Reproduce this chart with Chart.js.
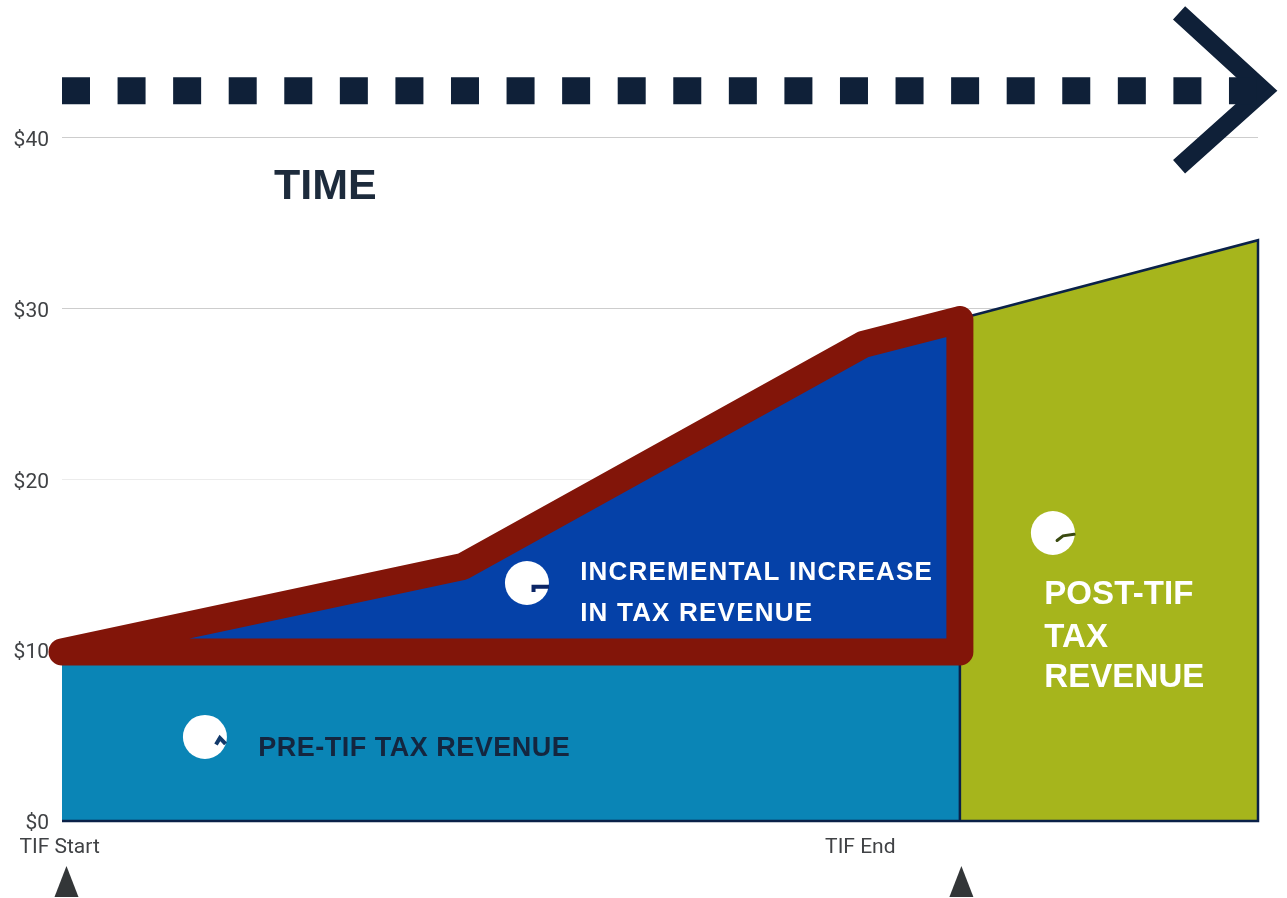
<!DOCTYPE html>
<html>
<head>
    <title>TIF Tax Revenue</title>
    <script src="https://cdn.jsdelivr.net/npm/chart.js"></script>
    <style>
        html, body { margin: 0; padding: 0; background: #fff; }
        canvas { display: block; }
    </style>
</head>
<body>
    <canvas id="tif-chart" width="1287" height="898"></canvas>

    <script>
        // value axis
        const valueTicks = [0, 10, 20, 30, 40];

        // time axis, in years from the start of the district
        const timeTicks = [-0.08, 26.7];
        const timeTickLabels = ['TIF Start', 'TIF End'];
        const timeMarkers = [0.15, 30.08];

        // revenue areas
        const preTifYears = [0, 30.03];
        const preTifValues = [9.9, 9.9];
        const incrementYears = [0, 13.4, 26.8, 30.03];
        const incrementValues = [9.9, 14.9, 27.9, 29.35];
        const postTifYears = [30.03, 40];
        const postTifValues = [29.4, 34];

        // heavy border around the increment
        const borderYears = [0, 13.4, 26.8, 30.03, 30.03, 0];
        const borderValues = [9.9, 14.9, 27.9, 29.35, 9.9, 9.9];

        // thin outline along the base and the post-TIF area
        const outlineYears = [0, 40, 40, 30.03, 30.03];
        const outlineValues = [0, 0, 34, 29.4, 0];

        // time arrow across the top
        const arrowYears = [0, 39.97];
        const arrowValues = [42.75, 42.75];
        const chevronYears = [37.36, 40.2, 37.36];
        const chevronValues = [47.3, 42.75, 38.3];

        // white dots beside the labels, and the small nick inside each one
        const dotYears = [4.78, 15.55, 33.14];
        const dotValues = [4.92, 13.93, 16.86];
        const nickAYears = [5.15, 5.28, 5.47];
        const nickAValues = [4.48, 4.86, 4.51];
        const nickBYears = [15.77, 15.77, 16.29];
        const nickBValues = [13.4, 13.71, 13.71];
        const nickCYears = [33.28, 33.48, 33.85];
        const nickCValues = [16.42, 16.69, 16.78];

        const points = (xs, ys) => xs.map((x, i) => ({ x: x, y: ys[i] }));

        const areaSet = (xs, ys, color) => ({
            data: points(xs, ys),
            showLine: true,
            fill: 'origin',
            backgroundColor: color,
            borderWidth: 0,
            pointRadius: 0,
            clip: false
        });

        const lineSet = (xs, ys, color, width, extra) => Object.assign({
            data: points(xs, ys),
            showLine: true,
            fill: false,
            borderColor: color,
            borderWidth: width,
            pointRadius: 0,
            clip: false
        }, extra);

        // text placed on the chart: [text, year, value, font, color, letter spacing]
        const chartNotes = [
            ['TIME', 7.09, 37.08, 'bold 43px "Liberation Sans"', '#1d2b3c', '0px'],
            ['PRE-TIF TAX REVENUE', 6.56, 4.27, 'bold 27px "Liberation Sans"', '#14263f', '0.5px'],
            ['INCREMENTAL INCREASE', 17.33, 14.55, 'bold 26px "Liberation Sans"', '#ffffff', '1.2px'],
            ['IN TAX REVENUE', 17.33, 12.15, 'bold 26px "Liberation Sans"', '#ffffff', '1.2px'],
            ['POST-TIF', 32.85, 13.24, 'bold 33px "Liberation Sans"', '#ffffff', '0.1px'],
            ['TAX', 32.85, 10.72, 'bold 33px "Liberation Sans"', '#ffffff', '0.1px'],
            ['REVENUE', 32.85, 8.38, 'bold 33px "Liberation Sans"', '#ffffff', '0.1px']
        ];

        // draws the notes and the start/end pointers under the axis
        const notesPlugin = {
            id: 'notes',
            afterDraw(chart) {
                const ctx = chart.ctx;
                const x = chart.scales.x;
                const y = chart.scales.y;

                ctx.save();
                ctx.textAlign = 'left';
                ctx.textBaseline = 'middle';
                chartNotes.forEach(note => {
                    ctx.font = note[3];
                    ctx.fillStyle = note[4];
                    ctx.letterSpacing = note[5];
                    ctx.fillText(note[0], x.getPixelForValue(note[1]), y.getPixelForValue(note[2]));
                });

                ctx.fillStyle = '#333638';
                timeMarkers.forEach(year => {
                    const px = x.getPixelForValue(year);
                    ctx.beginPath();
                    ctx.moveTo(px, 866);
                    ctx.lineTo(px + 12, 897);
                    ctx.lineTo(px - 12, 897);
                    ctx.closePath();
                    ctx.fill();
                });
                ctx.restore();
            }
        };

        const ctx = document.getElementById('tif-chart').getContext('2d');
        new Chart(ctx, {
            type: 'scatter',
            data: {
                datasets: [
                    lineSet(nickAYears, nickAValues, '#123a6b', 4),
                    lineSet(nickBYears, nickBValues, '#0b2566', 4),
                    lineSet(nickCYears, nickCValues, '#3a4a10', 3, { borderCapStyle: 'round' }),
                    {
                        data: points(dotYears, dotValues),
                        backgroundColor: '#ffffff',
                        borderWidth: 0,
                        pointRadius: 22,
                        clip: false
                    },
                    lineSet(borderYears, borderValues, '#821509', 27, {
                        borderJoinStyle: 'round',
                        borderCapStyle: 'round'
                    }),
                    lineSet(outlineYears, outlineValues, '#0a2148', 2.5),
                    areaSet(preTifYears, preTifValues, '#0a85b6'),
                    areaSet(incrementYears, incrementValues, '#0541a8'),
                    areaSet(postTifYears, postTifValues, '#a6b51c'),
                    lineSet(arrowYears, arrowValues, '#0f2038', 27, { borderDash: [28, 27.57] }),
                    lineSet(chevronYears, chevronValues, '#0f2038', 18, { borderJoinStyle: 'miter' })
                ]
            },
            options: {
                responsive: false,
                animation: false,
                layout: { autoPadding: false, padding: { top: 1, right: 29, left: 0, bottom: 0 } },
                plugins: {
                    legend: { display: false },
                    tooltip: { enabled: false }
                },
                scales: {
                    x: {
                        type: 'linear',
                        min: 0,
                        max: 40,
                        afterBuildTicks: axis => { axis.ticks = timeTicks.map(v => ({ value: v })); },
                        afterFit: axis => { axis.height = 77; axis.paddingLeft = 0; axis.paddingRight = 0; },
                        grid: { display: false },
                        border: { display: false },
                        ticks: {
                            autoSkip: false,
                            maxRotation: 0,
                            padding: 6,
                            color: '#404245',
                            font: { family: 'Roboto', size: 21 },
                            callback: (value, index) => timeTickLabels[index]
                        }
                    },
                    y: {
                        min: 0,
                        max: 48,
                        afterBuildTicks: axis => { axis.ticks = valueTicks.map(v => ({ value: v })); },
                        afterFit: axis => { axis.width = 62; axis.paddingTop = 0; axis.paddingBottom = 0; },
                        grid: {
                            // the $20 line is printed fainter than the others
                            color: c => (c.tick && c.tick.value === 20 ? '#ececec' : '#cdcdcd'),
                            drawTicks: false
                        },
                        border: { display: false },
                        ticks: {
                            padding: 13,
                            labelOffset: 3,
                            color: '#404245',
                            font: { family: 'Roboto', size: 21 },
                            callback: value => '$' + value
                        }
                    }
                }
            },
            plugins: [notesPlugin]
        });
    </script>
</body>
</html>
